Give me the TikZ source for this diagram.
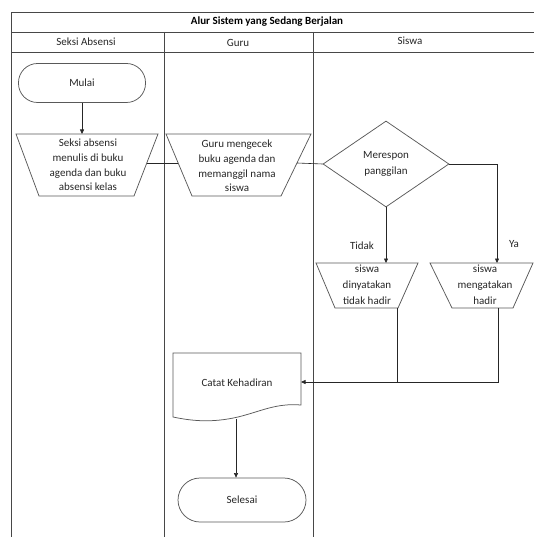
\documentclass[tikz,border=0pt]{standalone}
\usepackage{fontspec}
\setmainfont{Carlito}
\usetikzlibrary{shapes.geometric,arrows.meta}
\begin{document}
\begin{tikzpicture}[x=1pt,y=-1pt,
  lane/.style={draw=black!72, line width=0.8pt},
  shp/.style={draw=black!65, line width=0.75pt},
  conn/.style={draw=black!85, line width=0.6pt},
  arr/.style={conn, -{Triangle[length=4.5pt,width=4pt]}},
  txt/.style={font=\fontsize{11}{14.7}\selectfont, align=center, inner sep=0pt, text=black!85},
  txtb/.style={font=\fontsize{11}{16}\selectfont, align=center, inner sep=0pt, text=black!85},
  term/.style={shp, rounded corners=19pt, minimum width=127pt, minimum height=39pt, txt}
]
\useasboundingbox (0,0) rectangle (534,537);
% frame and lanes
\draw[lane] (534,12) -- (11,12) -- (11,537);
\draw[lane] (11,32) -- (534,32);
\draw[lane] (11,52) -- (534,52);
\draw[lane] (164,32) -- (164,537);
\draw[lane] (313,32) -- (313,537);
\node[txt, font=\fontsize{11}{13}\selectfont\bfseries, text=black] (title) at (267,22) {Alur Sistem yang Sedang Berjalan};
\node[txt] (h1) at (86,42) {Seksi Absensi};
\node[txt] (h2) at (238,43) {Guru};
\node[txt] (h3) at (410,41) {Siswa};

% Mulai
\node[term] (mulai) at (82,83) {Mulai};

% trapezoid 1
\draw[shp] (16,134) -- (158,134) -- (134,196) -- (39,196) -- cycle;
\node[txt] (t1) at (88,165) {Seksi absensi\\menulis di buku\\agenda dan buku\\absensi kelas};
\coordinate (t1top) at (82,134);
\coordinate (t1r) at (147,163);

% trapezoid 2
\draw[shp] (166,134) -- (311,134) -- (281,196) -- (192,196) -- cycle;
\node[txt] (t2) at (237,166) {Guru mengecek\\buku agenda dan\\memanggil nama\\siswa};
\coordinate (t2l) at (178,163);
\coordinate (t2r) at (297,163);

% decision
\node[shp, diamond, minimum width=126pt, minimum height=86pt, inner sep=0pt, txtb] (dec) at (386,164) {Merespon\\panggilan};

% trapezoid 3
\draw[shp] (316,263) -- (418,263) -- (398,308) -- (335,308) -- cycle;
\node[txtb] (t3) at (367,285) {siswa\\dinyatakan\\tidak hadir};
\coordinate (t3top) at (386,263);
\coordinate (t3b) at (397,308);

% trapezoid 4
\draw[shp] (430,263) -- (533,263) -- (513,308) -- (452,308) -- cycle;
\node[txtb] (t4) at (485,285) {siswa\\mengatakan\\hadir};
\coordinate (t4top) at (497,263);
\coordinate (t4b) at (498,308);

% document
\draw[shp] (173,353) -- (301,353) -- (301,405) .. controls (276,403) and (262,411) .. (238,417) .. controls (212,423) and (192,421) .. (173,417) -- cycle;
\node[txt] (catat) at (237,383) {Catat Kehadiran};
\coordinate (catR) at (301,382);
\coordinate (catB) at (236,419);

% Selesai
\node[term, minimum height=44pt, minimum width=128pt, rounded corners=22pt] (sel) at (242,500) {Selesai};

% labels
\node[txtb] (tidak) at (362,246) {Tidak};
\node[txtb] (ya) at (514,244) {Ya};

% connectors
\draw[arr] (mulai.south) -- (t1top);
\draw[conn] (t1r) -- (t2l);
\draw[conn] (t2r) -- (dec.west);
\draw[arr] (dec.south) -- (t3top);
\draw[arr] (dec.east) -| (t4top);
\draw[conn] (t3b) -- (t3b |- catR);
\draw[arr] (t4b) |- (catR);
\draw[arr] (catB) -- (catB |- sel.north);
\end{tikzpicture}
\end{document}
